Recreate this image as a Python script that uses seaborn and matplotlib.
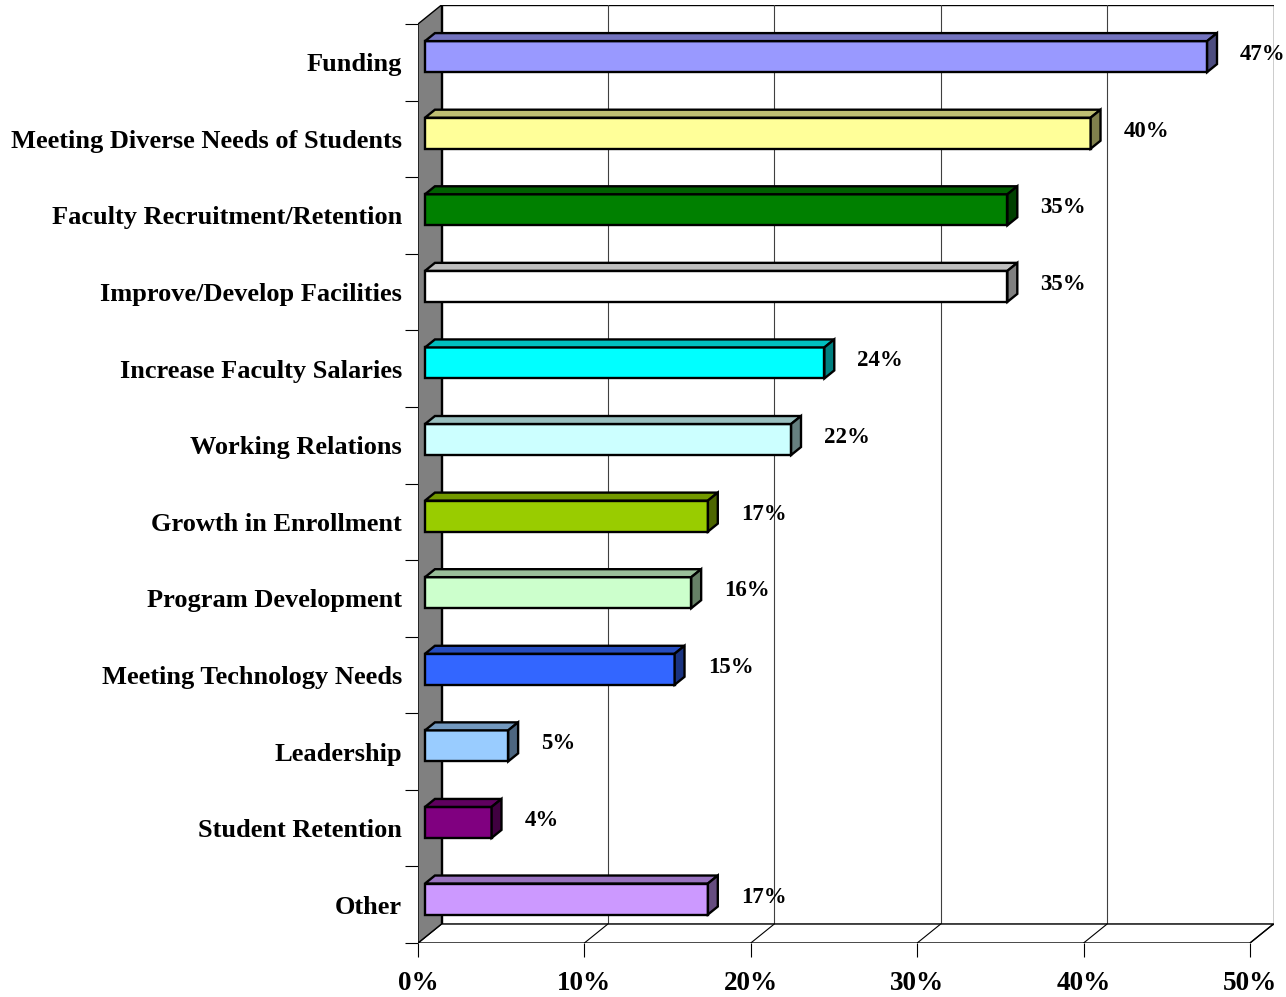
import numpy as np
import matplotlib
matplotlib.use("Agg")
import matplotlib.pyplot as plt
from matplotlib.patches import Polygon, Rectangle
from matplotlib.colors import to_rgb
import seaborn as sns

# ---- data -------------------------------------------------------------
categories = [
    "Funding",
    "Meeting Diverse Needs of Students",
    "Faculty Recruitment/Retention",
    "Improve/Develop Facilities",
    "Increase Faculty Salaries",
    "Working Relations",
    "Growth in Enrollment",
    "Program Development",
    "Meeting Technology Needs",
    "Leadership",
    "Student Retention",
    "Other",
]
percent = [47, 40, 35, 35, 24, 22, 17, 16, 15, 5, 4, 17]
bar_colors = [
    "#9999FF", "#FFFF99", "#008000", "#FFFFFF", "#00FFFF", "#CCFFFF",
    "#99CC00", "#CCFFCC", "#3366FF", "#99CCFF", "#800080", "#CC99FF",
]
x_ticks = [0, 10, 20, 30, 40, 50]
x_tick_labels = ["0%", "10%", "20%", "30%", "40%", "50%"]

# ---- style ------------------------------------------------------------
sns.set_style("white")
plt.rcParams["font.family"] = ["Liberation Serif", "DejaVu Serif"]
plt.rcParams["font.weight"] = "bold"
plt.rcParams["text.color"] = "black"
plt.rcParams["xtick.color"] = "black"
plt.rcParams["ytick.color"] = "black"
plt.rcParams["xtick.labelcolor"] = "black"
plt.rcParams["ytick.labelcolor"] = "black"

W, H = 1286, 997
fig = plt.figure(figsize=(W / 100, H / 100), dpi=100)

# pseudo-3D box geometry (pixels)
px_per_pct = 16.64
x0_px = 418
depth_px = (23.5, 19.0)          # receding offset: right, up
front_top_px, floor_px = 24, 943
n = len(categories)
row_px = (floor_px - front_top_px) / n

dx = depth_px[0] / px_per_pct    # depth in data units
dy = -depth_px[1] / row_px       # y axis is inverted
xmax = x_ticks[-1] + dx
ytop = -0.5 + dy
ybot = n - 0.5

ax = fig.add_axes([
    x0_px / W,
    (H - floor_px) / H,
    xmax * px_per_pct / W,
    (floor_px - (front_top_px - depth_px[1])) / H,
])

# ---- bars -------------------------------------------------------------
sns.barplot(
    x=percent, y=categories, hue=categories, palette=bar_colors, legend=False,
    orient="h", width=0.405, edgecolor="black", linewidth=1.7,
    saturation=1, ax=ax, zorder=4,
)
bars = list(ax.patches)

ax.set_xlim(0, xmax)
ax.set_ylim(ybot, ytop)

# ---- walls and floor --------------------------------------------------
ax.add_patch(Rectangle((dx, ytop), x_ticks[-1], n, facecolor="white",
                       edgecolor="black", lw=1.0, zorder=0.5))
for t in x_ticks[1:-1]:
    ax.plot([t + dx, t + dx], [ytop, ybot + dy], color="#404040", lw=0.8, zorder=0.6)
ax.add_patch(Polygon([(0, ybot), (x_ticks[-1], ybot), (x_ticks[-1] + dx, ybot + dy),
                      (dx, ybot + dy)], closed=True, facecolor="white",
                     edgecolor="black", lw=1.0, zorder=0.7))
for t in x_ticks[1:]:
    ax.plot([t, t + dx], [ybot, ybot + dy], color="black", lw=0.8, zorder=0.8)
ax.add_patch(Polygon([(0, ybot), (0, -0.5), (dx, ytop), (dx, ybot + dy)],
                     closed=True, facecolor="#808080", edgecolor="black",
                     lw=1.0, zorder=0.9))


def shade(c, k):
    r, g, b = to_rgb(c)
    return (r * k, g * k, b * k)


# shift bar fronts into the box and add top / side faces
f_front, f_depth = 0.3, 0.42
bdx, bdy = f_depth * dx, f_depth * dy
for p in bars:
    idx = int(round(p.get_y() + p.get_height() / 2))
    p.set_x(p.get_x() + f_front * dx)
    p.set_y(p.get_y() + f_front * dy)
    xl, yt, w, h = p.get_x(), p.get_y(), p.get_width(), p.get_height()
    fc = p.get_facecolor()
    top = Polygon([(xl, yt), (xl + bdx, yt + bdy), (xl + w + bdx, yt + bdy), (xl + w, yt)],
                  closed=True, facecolor=shade(fc, 0.75), edgecolor="black",
                  lw=1.7, joinstyle="miter", zorder=4)
    side = Polygon([(xl + w, yt), (xl + w + bdx, yt + bdy), (xl + w + bdx, yt + h + bdy),
                    (xl + w, yt + h)], closed=True, facecolor=shade(fc, 0.5),
                   edgecolor="black", lw=1.7, joinstyle="miter", zorder=4)
    ax.add_patch(top)
    ax.add_patch(side)
    ax.text(xl + w + 33 / px_per_pct, yt + h / 2 - 2 / row_px, f"{percent[idx]}%",
            ha="left", va="center", fontsize=16.5, fontweight="bold",
            color="black", clip_on=False, zorder=5)

# ---- axes decoration --------------------------------------------------
for s in ax.spines.values():
    s.set_visible(False)

ax.set_yticks(range(n))
ax.set_yticklabels(categories, fontsize=19, fontweight="bold", color="black")
ax.set_yticks(np.arange(-0.5, n), minor=True)
ax.tick_params(axis="y", which="major", length=0, pad=11.5)
ax.tick_params(axis="y", which="minor", length=9.4, width=0.8, color="black",
               direction="out", left=True)

ax.set_xticks(x_ticks)
ax.set_xticklabels(x_tick_labels, fontsize=19.5, fontweight="bold", color="black")
ax.tick_params(axis="x", which="major", length=10, width=0.8, color="black",
               direction="out", pad=10, bottom=True)
ax.set_xlabel("")
ax.set_ylabel("")

fig.savefig("out.png", dpi=100)
